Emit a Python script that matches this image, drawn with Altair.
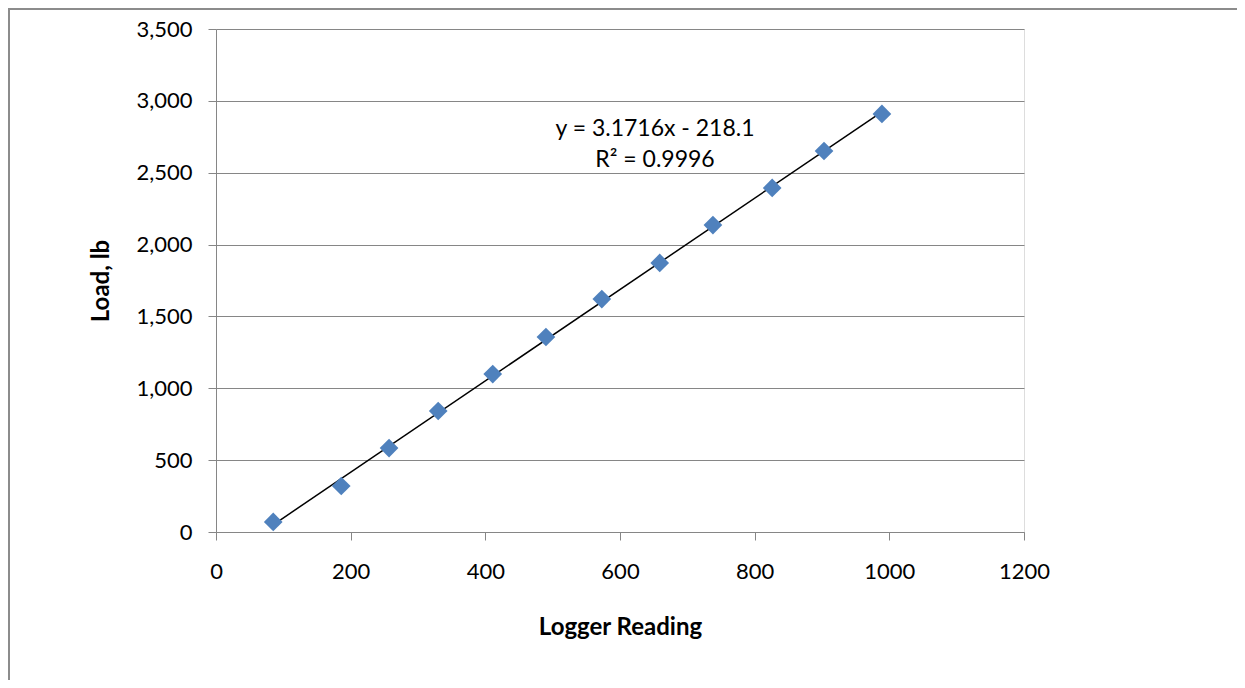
import altair as alt
import pandas as pd

logger_reading = [85, 186, 257, 330, 411, 490, 573, 659, 738, 826, 903, 989]
load_lb = [70, 320, 584, 842, 1099, 1357, 1621, 1872, 2136, 2394, 2651, 2909]
eq_lines = ["y = 3.1716x - 218.1", "R² = 0.9996"]
eq_x = [652, 652]
eq_y = [2804, 2588]

df = pd.DataFrame({"x": logger_reading, "y": load_lb})
eq_df = pd.DataFrame({"x": eq_x, "y": eq_y, "t": eq_lines})

FONT = "Lato"
GRAY = "#868686"

xs = alt.Scale(domain=[0, 1200], nice=False)
ys = alt.Scale(domain=[0, 3500], nice=False)

xax = alt.Axis(values=list(range(0, 1201, 200)), grid=False, tickSize=8, format="d",
               tickColor=GRAY, domainColor=GRAY, labelFontSize=22, labelFont=FONT,
               labelColor="black", labelPadding=21, title="Logger Reading",
               titleFont=FONT, titleFontSize=24, titleFontWeight="bold",
               titleColor="black", titlePadding=33, labelFlush=False)
yax = alt.Axis(values=list(range(0, 3501, 500)), grid=True, gridColor=GRAY,
               tickSize=8, tickColor=GRAY, domainColor=GRAY, labelFontSize=22,
               labelFont=FONT, labelColor="black", labelPadding=16, format=",.0f",
               title="Load, lb", titleFont=FONT, titleFontSize=24,
               titleFontWeight="bold", titleColor="black", titlePadding=22,
               labelFlush=False)

base = alt.Chart(df)

pts = base.mark_point(shape="diamond", filled=True, size=350, color="#4F81BD",
                      opacity=1).encode(
    x=alt.X("x:Q", scale=xs, axis=xax),
    y=alt.Y("y:Q", scale=ys, axis=yax),
)

trend = base.transform_regression("x", "y").mark_line(color="black", strokeWidth=1.5).encode(
    x=alt.X("x:Q", scale=xs),
    y=alt.Y("y:Q", scale=ys),
)

eq = alt.Chart(eq_df).mark_text(font=FONT, fontSize=23, color="black", align="center",
                                baseline="middle").encode(
    x=alt.X("x:Q", scale=xs), y=alt.Y("y:Q", scale=ys), text="t:N")

border_left = alt.Chart(df).mark_rule(color="#8c8c8c", strokeWidth=2).encode(
    x=alt.value(-207), y=alt.value(-21), y2=alt.value(700))
border_top = alt.Chart(df).mark_rule(color="#8c8c8c", strokeWidth=2).encode(
    x=alt.value(-208), x2=alt.value(1100), y=alt.value(-20))

chart = alt.layer(trend, pts, eq, border_left, border_top).properties(
    width=808, height=503,
    padding={"left": 208, "top": 21, "right": 213, "bottom": 148},
    autosize=alt.AutoSizeParams(type="none"),
).configure_view(stroke=None).configure(background="white")

chart.save("out.html", embed_options={"renderer": "svg", "actions": False})
